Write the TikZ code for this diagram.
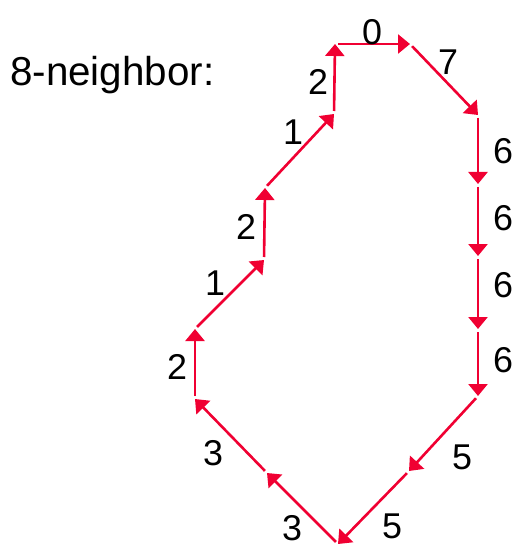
\documentclass[tikz,border=0pt]{standalone}
\usepackage{fontspec}
\setmainfont{Liberation Sans}
\usetikzlibrary{arrows.meta}
\definecolor{chainred}{RGB}{240,0,50}
\begin{document}
\begin{tikzpicture}[x=1bp,y=-1bp,
  seg/.style={draw=chainred,line width=2.6bp,shorten <=3bp,
    -{Triangle[length=12bp,width=19bp]},fill=chainred},
  lbl/.style={font=\fontsize{36}{40}\selectfont,inner sep=0pt}]
\useasboundingbox (0,0) rectangle (520,546);
\coordinate (p0) at (335,44);
\coordinate (p1) at (410,44);
\coordinate (p2) at (478,115);
\coordinate (p3) at (478,184);
\coordinate (p4) at (478,256);
\coordinate (p5) at (478,329);
\coordinate (p6) at (478,396);
\coordinate (p7) at (409,471);
\coordinate (p8) at (338,544);
\coordinate (p9) at (267,473);
\coordinate (p10) at (195,399);
\coordinate (p11) at (195,329);
\coordinate (p12) at (264,260);
\coordinate (p13) at (265,188);
\coordinate (p14) at (334,114);
\draw[seg] (p0) -- (p1);
\draw[seg] (p1) -- (p2);
\draw[seg] (p2) -- (p3);
\draw[seg] (p3) -- (p4);
\draw[seg] (p4) -- (p5);
\draw[seg] (p5) -- (p6);
\draw[seg] (p6) -- (p7);
\draw[seg] (p7) -- (p8);
\draw[seg] (p8) -- (p9);
\draw[seg] (p9) -- (p10);
\draw[seg] (p10) -- (p11);
\draw[seg] (p11) -- (p12);
\draw[seg] (p12) -- (p13);
\draw[seg] (p13) -- (p14);
\draw[seg] (p14) -- (p0);
\node[lbl,font=\fontsize{40.5}{44}\selectfont,anchor=base west] (title) at (10,86) {8-neighbor:};
\node[lbl] (l0) at (372,32) {0};
\node[lbl] (l1) at (448,62) {7};
\node[lbl] (l2) at (503,151) {6};
\node[lbl] (l3) at (503,218) {6};
\node[lbl] (l4) at (503,285) {6};
\node[lbl] (l5) at (503,360) {6};
\node[lbl] (l6) at (462,457) {5};
\node[lbl] (l7) at (392,526) {5};
\node[lbl] (l8) at (292,528) {3};
\node[lbl] (l9) at (213,453) {3};
\node[lbl] (l10) at (177,367) {2};
\node[lbl] (l11) at (215,283) {1};
\node[lbl] (l12) at (246,227) {2};
\node[lbl] (l13) at (293,132) {1};
\node[lbl] (l14) at (318,82) {2};
\end{tikzpicture}
\end{document}
